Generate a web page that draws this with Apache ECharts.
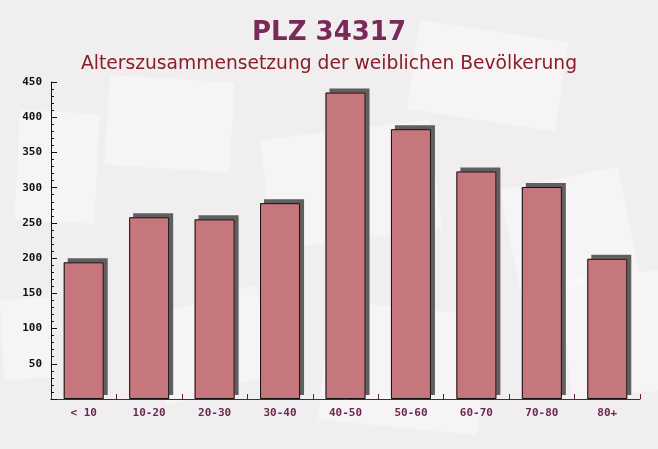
<!DOCTYPE html>
<html><head><meta charset="utf-8">
<script src="https://cdn.jsdelivr.net/npm/echarts@6/dist/echarts.min.js"></script>
<style>html,body{margin:0;padding:0;background:#f2eff1}#c{width:658px;height:449px}</style>
</head><body><div id="c"></div>
<script>
var categories = ['< 10','10-20','20-30','30-40','40-50','50-60','60-70','70-80','80+'];
var values = [194, 258, 255, 278, 435, 383, 323, 301, 199];
var titleText = 'PLZ 34317';
var subtitleText = 'Alterszusammensetzung der weiblichen Bevölkerung';

var chart = echarts.init(document.getElementById('c'), null, {renderer:'canvas'});
function env(x,y,w,h,rot){
  return {type:'rect', x:x, y:y, rotation:rot, shape:{x:0,y:0,width:w,height:h},
    style:{fill:'rgba(255,255,255,0.35)'}, z:-10, silent:true};
}
chart.setOption({
  backgroundColor:'#f1eef0',
  graphic:[
    env(110,75,125,90,-0.06), env(260,140,170,110,0.12), env(20,110,80,110,-0.05),
    env(420,20,150,90,-0.15), env(500,190,120,110,0.2), env(140,320,120,90,0.3),
    env(330,300,160,120,-0.1), env(560,280,100,120,0.1), env(0,300,50,80,0.05)
  ],
  title:[
    {text:titleText, left:'center', top:15, textStyle:{fontFamily:'DejaVu Sans', fontWeight:'bold', fontSize:26, color:'#7a2a58'}},
    {text:subtitleText, left:'center', top:50, textStyle:{fontFamily:'DejaVu Sans', fontWeight:'normal', fontSize:18.7, color:'#8b1c2c'}}
  ],
  grid:{left:51, right:18, top:82, bottom:50},
  xAxis:{type:'category', data:categories,
    axisLine:{lineStyle:{color:'#5a2040', width:1}},
    axisTick:{show:true, inside:true, length:5, lineStyle:{color:'#5a2040'}},
    axisLabel:{fontFamily:'DejaVu Sans Mono', fontWeight:'bold', fontSize:11, color:'#6b2850', margin:9}
  },
  yAxis:{type:'value', min:0, max:450, interval:50,
    axisLine:{show:true, lineStyle:{color:'#111', width:1}},
    axisTick:{show:true, inside:true, length:6, lineStyle:{color:'#111'}},
    minorTick:{show:true, splitNumber:5, length:3, lineStyle:{color:'#111'}},
    splitLine:{show:false},
    axisLabel:{fontFamily:'DejaVu Sans Mono', fontWeight:'bold', fontSize:11, color:'#111', margin:9,
      formatter:function(v){return v===0?'':v;}}
  },
  series:[
    {type:'bar', data:values, barWidth:40, z:2,
      itemStyle:{color:'#c5777d', borderWidth:0,
        shadowColor:'#5f5f5f', shadowOffsetX:4, shadowOffsetY:-4, shadowBlur:0}},
    {type:'bar', data:values, barWidth:40, barGap:'-100%', z:3,
      itemStyle:{color:'rgba(0,0,0,0)', borderColor:'#111', borderWidth:1}}
  ]
});
</script></body></html>
